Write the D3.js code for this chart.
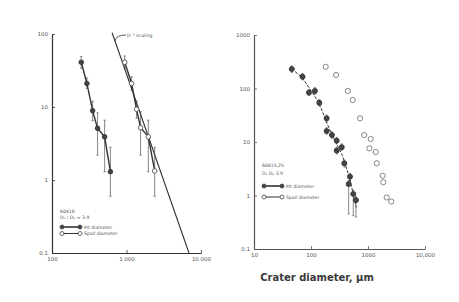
<!DOCTYPE html>
<html><head><meta charset="utf-8">
<script src="https://cdn.jsdelivr.net/npm/d3@7"></script>
<style>body{margin:0;background:#fff}svg{display:block}</style>
</head><body>
<script>
// ---------- DATA ----------
// Left panel (sample 60416)
const leftXTicks = [100, 1000, 10000];
const leftXTickLabels = ["100", "1 000", "10 000"];
const leftYTicks = [0.1, 1, 10, 100];
const leftYTickLabels = ["0.1", "1", "10", "100"];
const leftPitX = [247, 294, 351, 409, 509, 608];
const leftPitY = [41, 21, 8.9, 5.1, 3.9, 1.3];
const leftPitLo = [34, 18, 6.5, 2.2, 1.3, 0.6];
const leftPitHi = [49, 25, 12, 8.3, 6.6, 2.8];
const leftSpallX = [948, 1170, 1365, 1545, 1963, 2390];
const leftSpallY = [41, 21, 9.3, 5.2, 3.9, 1.33];
const leftSpallLo = [34, 17, 7, 2.2, 1.3, 0.6];
const leftSpallHi = [50, 26, 12, 8.6, 6.6, 2.8];
const refLineX = [641, 6900];
const refLineY = [104, 0.1];
const refAnchor = [700, 80];
const refLabelPos = [1050, 97];
const refLabel = "D\u207B\u00B3 scaling";
const leftLegendTitle = ["60416", "D\u209B / D\u209A = 3.9"];
const legendNames = ["Pit diameter", "Spall diameter"];

// Right panel (sample 60415,25)
const rightXTicks = [10, 100, 1000, 10000];
const rightXTickLabels = ["10", "100", "1000", "10,000"];
const rightYTicks = [0.1, 1, 10, 100, 1000];
const rightYTickLabels = ["0.1", "1", "10", "100", "1000"];
const rightPitX = [46, 71, 92, 117, 140, 188, 188, 233, 282, 282, 346, 384, 483, 458, 552, 615];
const rightPitY = [231, 166, 84, 90, 54, 27.7, 16, 13.5, 10.6, 6.9, 8.0, 4.0, 2.25, 1.64, 1.07, 0.82];
const rightPitLo = [200, 145, 74, 78, 47, 24, 14, 11.8, 9.2, 6.0, 7.0, 3.4, 1.9, 0.45, 0.42, 0.40];
const rightPitHi = [265, 190, 96, 104, 62, 32, 18.5, 15.5, 12.2, 8.0, 9.2, 4.6, 2.6, 1.9, 1.25, 0.95];
const rightFitX = [46, 70, 100, 140, 190, 240, 290, 350, 400, 480, 560, 620];
const rightFitY = [231, 165, 90, 55, 22, 13, 8.5, 6, 3.8, 2, 1.0, 0.6];
const rightSpallX = [181, 275, 441, 539, 725, 861, 1115, 1055, 1365, 1422, 1811, 1855, 2127, 2563];
const rightSpallY = [255, 179, 90, 61, 27.7, 13.5, 11.4, 7.6, 6.5, 4.0, 2.34, 1.77, 0.92, 0.77];
const rightLegendTitle = ["60415,25", "D\u209B  D\u209A   3.9"];
const xAxisTitle = "Crater diameter, \u03BCm";

// ---------- DRAW ----------
const W = 459, H = 302;
const ink = "#333", textC = "#555";
const svg = d3.select("body").append("svg").attr("width", W).attr("height", H);

function axisPanel(cfg) {
  const g = svg.append("g");
  const x = d3.scaleLog().domain(cfg.xDom).range(cfg.xRange);
  const y = d3.scaleLog().domain(cfg.yDom).range(cfg.yRange);
  const ax = d3.axisBottom(x).tickValues(cfg.xTicks).tickSize(-3).tickSizeOuter(0)
    .tickFormat((d, i) => cfg.xLabels[i]).tickPadding(4);
  const ay = d3.axisLeft(y).tickValues(cfg.yTicks).tickSize(-3).tickSizeOuter(0)
    .tickFormat((d, i) => cfg.yLabels[i]).tickPadding(4);
  const gx = g.append("g").attr("transform", `translate(0,${cfg.yRange[0]})`).call(ax);
  const gy = g.append("g").attr("transform", `translate(${cfg.xRange[0]},0)`).call(ay);
  [gx, gy].forEach(a => {
    a.select(".domain").attr("stroke", cfg.axisC).attr("stroke-width", 1.2);
    a.selectAll(".tick line").attr("stroke", cfg.axisC).attr("stroke-width", 0.8);
    a.selectAll("text").attr("fill", textC).attr("font-family", "DejaVu Sans")
      .attr("font-size", 5.5);
  });
  return {g, x, y};
}

function errorBars(p, xs, lo, hi, w) {
  p.g.append("g").selectAll("g").data(xs.map((d, i) => [d, lo[i], hi[i]])).join("g")
    .each(function(d) {
      const s = d3.select(this);
      s.append("line").attr("x1", p.x(d[0])).attr("x2", p.x(d[0]))
        .attr("y1", p.y(d[1])).attr("y2", p.y(d[2])).attr("stroke", "#777").attr("stroke-width", 0.9);
      [d[1], d[2]].forEach(v => s.append("line").attr("x1", p.x(d[0]) - w).attr("x2", p.x(d[0]) + w)
        .attr("y1", p.y(v)).attr("y2", p.y(v)).attr("stroke", "#777").attr("stroke-width", 0.9));
    });
}

function series(p, xs, ys, filled, r, connect, openStroke) {
  const pts = xs.map((d, i) => [d, ys[i]]);
  if (connect) {
    p.g.append("path").datum(pts)
      .attr("d", d3.line().x(d => p.x(d[0])).y(d => p.y(d[1])))
      .attr("fill", "none").attr("stroke", ink).attr("stroke-width", 1.4);
  }
  p.g.append("g").selectAll("circle").data(pts).join("circle")
    .attr("cx", d => p.x(d[0])).attr("cy", d => p.y(d[1])).attr("r", r)
    .attr("fill", filled ? "#444" : "#fff").attr("stroke", filled ? "#333" : openStroke)
    .attr("stroke-width", 0.9);
}

function legend(p, x0, y0, title, gap, itemGap) {
  const g = p.g.append("g").attr("font-family", "DejaVu Sans").attr("font-size", 4.6).attr("fill", textC);
  title.forEach((t, i) => g.append("text").attr("x", x0).attr("y", y0 + i * gap).text(t));
  legendNames.forEach((n, i) => {
    const yy = y0 + title.length * gap + 3 + i * itemGap;
    g.append("line").attr("x1", x0 + 2).attr("x2", x0 + 20).attr("y1", yy).attr("y2", yy)
      .attr("stroke", ink).attr("stroke-width", i === 0 ? 1.6 : 1);
    [x0 + 2, x0 + 20].forEach(cx => g.append("circle").attr("cx", cx).attr("cy", yy).attr("r", 2)
      .attr("fill", i === 0 ? "#444" : "#fff").attr("stroke", "#444").attr("stroke-width", 0.8));
    g.append("text").attr("x", x0 + 24).attr("y", yy + 1.6).text(n);
  });
}

// Left panel
const L = axisPanel({xDom: [100, 10000], xRange: [52, 201], yDom: [0.1, 100], yRange: [253, 34],
  xTicks: leftXTicks, xLabels: leftXTickLabels, yTicks: leftYTicks, yLabels: leftYTickLabels, axisC: "#333"});
errorBars(L, leftPitX, leftPitLo, leftPitHi, 1.2);
errorBars(L, leftSpallX, leftSpallLo, leftSpallHi, 1.2);
L.g.append("line").attr("x1", L.x(refLineX[0])).attr("y1", L.y(refLineY[0]))
  .attr("x2", L.x(refLineX[1])).attr("y2", L.y(refLineY[1])).attr("stroke", ink).attr("stroke-width", 1.1);
series(L, leftPitX, leftPitY, true, 2.3, true, "#555");
series(L, leftSpallX, leftSpallY, false, 2.3, true, "#555");
{
  const ax = L.x(refAnchor[0]), ay = L.y(refAnchor[1]);
  const lx = L.x(refLabelPos[0]), ly = L.y(refLabelPos[1]);
  L.g.append("path").attr("d", `M${ax},${ay} Q${ax + 1},${ly} ${lx - 2},${ly}`)
    .attr("fill", "none").attr("stroke", ink).attr("stroke-width", 0.8);
  L.g.append("text").attr("x", lx - 1).attr("y", ly + 1.8).attr("font-family", "DejaVu Sans")
    .attr("font-size", 4.6).attr("fill", textC).text(refLabel);
}
legend(L, 60, 213, leftLegendTitle, 5.5, 6.5);

// Right panel
const R = axisPanel({xDom: [10, 10000], xRange: [254, 425], yDom: [0.1, 1000], yRange: [249, 35],
  xTicks: rightXTicks, xLabels: rightXTickLabels, yTicks: rightYTicks, yLabels: rightYTickLabels, axisC: "#555"});
errorBars(R, rightPitX, rightPitLo, rightPitHi, 1);
R.g.append("path").datum(rightFitX.map((d, i) => [d, rightFitY[i]]))
  .attr("d", d3.line().x(d => R.x(d[0])).y(d => R.y(d[1])).curve(d3.curveBasis))
  .attr("fill", "none").attr("stroke", ink).attr("stroke-width", 1).attr("stroke-dasharray", "3,1.5");
series(R, rightPitX, rightPitY, true, 2.5, false, "#777");
series(R, rightSpallX, rightSpallY, false, 2.6, false, "#777");
legend(R, 262, 167, rightLegendTitle, 8, 11);

svg.append("text").attr("x", 317).attr("y", 281).attr("text-anchor", "middle")
  .attr("font-family", "DejaVu Sans").attr("font-size", 10).attr("font-weight", 600).attr("fill", "#3a3a3a")
  .text(xAxisTitle);
</script>
</body></html>
